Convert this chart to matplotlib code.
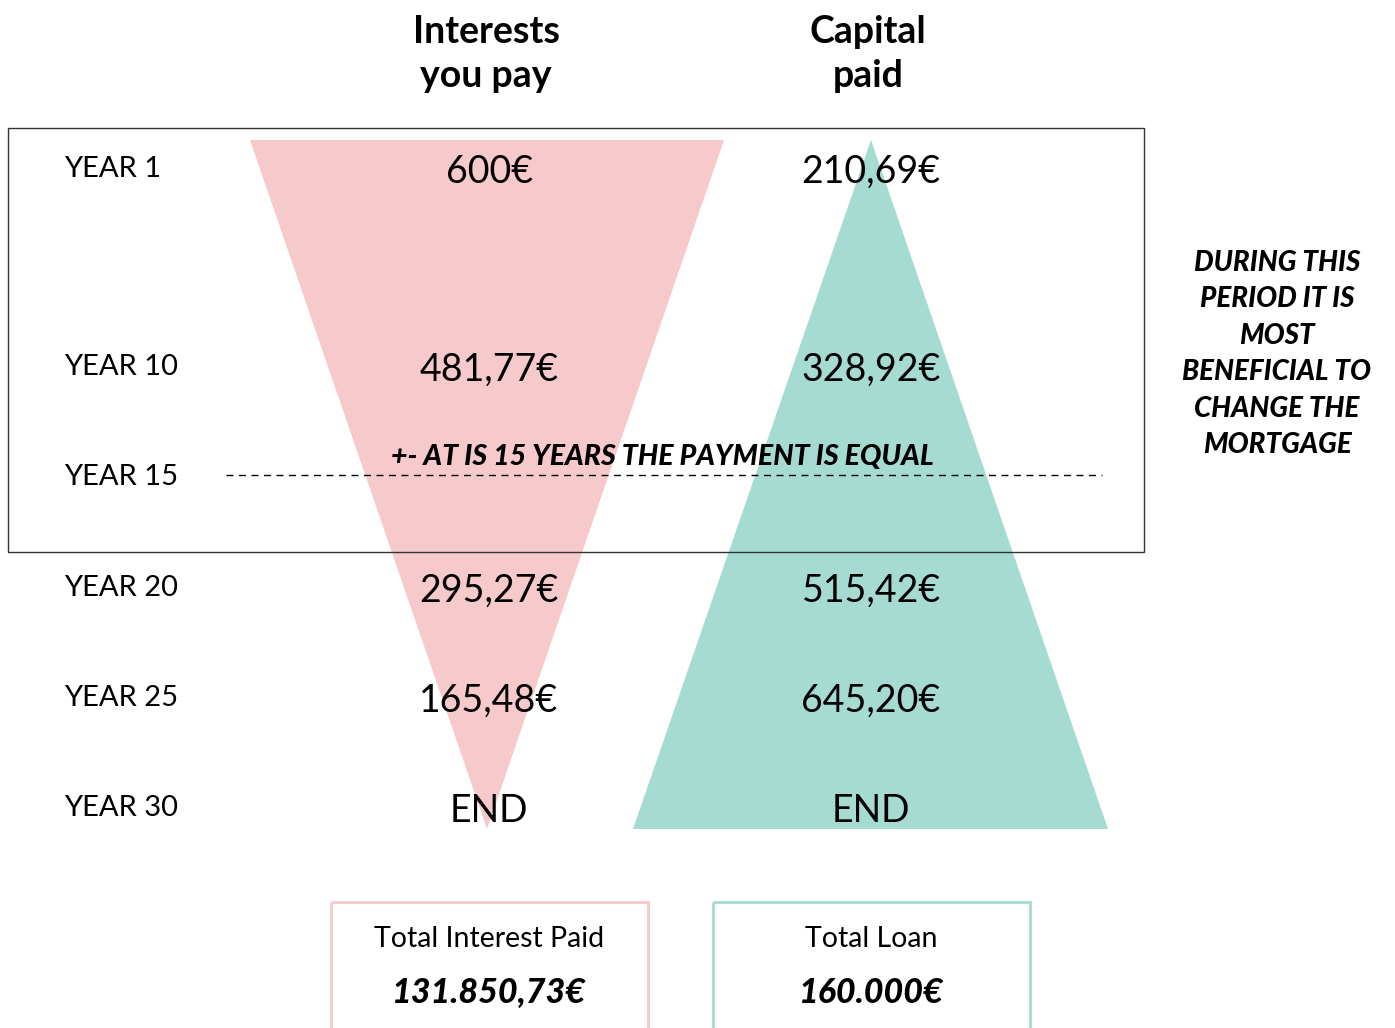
import matplotlib.pyplot as plt
from matplotlib.patches import Polygon, Rectangle

# chart content
years = ["YEAR 1", "YEAR 10", "YEAR 15", "YEAR 20", "YEAR 25", "YEAR 30"]
interest_paid = ["600€", "481,77€", "", "295,27€", "165,48€", "END"]
capital_paid = ["210,69€", "328,92€", "", "515,42€", "645,20€", "END"]
headers = ["Interests\nyou pay", "Capital\npaid"]
total_labels = ["Total Interest Paid", "Total Loan"]
total_values = ["131.850,73€", "160.000€"]
note_equal = "+- AT IS 15 YEARS THE PAYMENT IS EQUAL"
note_side = "DURING THIS\nPERIOD IT IS\nMOST\nBENEFICIAL TO\nCHANGE THE\nMORTGAGE"

PINK = "#F6C9CB"
TEAL = "#A6DBD1"
FONT = ["Lato", "DejaVu Sans"]

# layout (pixel space)
row_y = [168, 366, 476, 587, 697, 807]
col_x = [489, 871]

fig = plt.figure(figsize=(13.95, 10.28), dpi=100)
ax = fig.add_axes([0, 0, 1, 1])
ax.set_xlim(0, 1395)
ax.set_ylim(1028, 0)
ax.axis("off")

# triangles
ax.add_patch(Polygon([(250, 140), (724, 140), (487, 829)], closed=True,
                     facecolor=PINK, edgecolor="none", zorder=1))
ax.add_patch(Polygon([(871, 140), (1108, 829), (633, 829)], closed=True,
                     facecolor=TEAL, edgecolor="none", zorder=1))

# highlighted period box
ax.add_patch(Rectangle((8, 128), 1136, 424, fill=False, edgecolor="#333333",
                       linewidth=1.0, zorder=3))
ax.plot([226, 1102], [475, 475], linestyle=(0, (5, 4)), color="black",
        linewidth=1.0, zorder=3)

# headers
for x, h in zip(col_x, headers):
    ax.text(x - 3, 54, h, ha="center", va="center", fontsize=27,
            fontweight="bold", family=FONT, linespacing=1.33)

# rows
for y, yr, ip, cp in zip(row_y, years, interest_paid, capital_paid):
    ax.text(64, y + 1, yr, ha="left", va="center", fontsize=21, family=FONT, zorder=4)
    ax.text(col_x[0], y + 4, ip, ha="center", va="center", fontsize=27,
            family=FONT, zorder=4)
    ax.text(col_x[1], y + 4, cp, ha="center", va="center", fontsize=27,
            family=FONT, zorder=4)

# notes
ax.text(662, 457, note_equal, ha="center", va="center", fontsize=20.5,
        fontweight="black", style="italic", family=FONT, zorder=4)
ax.text(1277, 354, note_side, ha="center", va="center", fontsize=20,
        fontweight="black", style="italic", family=FONT, linespacing=1.5)

# totals boxes
for x0, color, lab, val in zip([331, 713], [PINK, TEAL], total_labels, total_values):
    ax.add_patch(Rectangle((x0, 902), 317, 140, fill=False, edgecolor=color,
                           linewidth=2, zorder=3))
    ax.text(x0 + 158, 939, lab, ha="center", va="center", fontsize=20.5, family=FONT)
    ax.text(x0 + 158, 993, val, ha="center", va="center", fontsize=24.5,
            fontweight="black", style="italic", family=FONT)

fig.savefig("out.png", dpi=100)
